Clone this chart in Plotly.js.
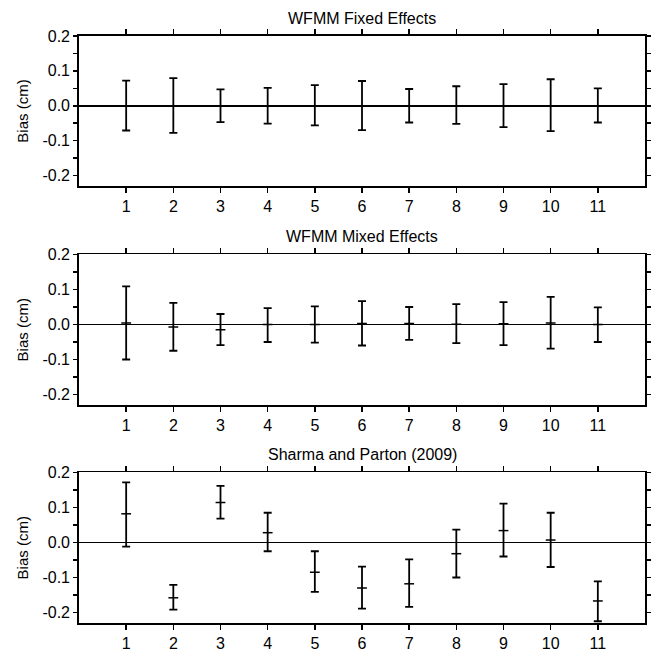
<!DOCTYPE html>
<html>
<head>
<meta charset="utf-8">
<script src="https://cdn.plot.ly/plotly-3.0.1.min.js"></script>
<style>html,body{margin:0;padding:0;background:#fff;}#chart{width:652px;height:653px;}</style>
</head>
<body>
<div id="chart"></div>
<script>
// ---- data ----
var categories = [1, 2, 3, 4, 5, 6, 7, 8, 9, 10, 11];

var fixedMean  = [0, 0, 0, 0, 0, 0, 0, 0, 0, 0, 0];
var fixedUpper = [0.072, 0.079, 0.047, 0.051, 0.059, 0.071, 0.048, 0.056, 0.062, 0.076, 0.050];
var fixedLower = [-0.071, -0.078, -0.047, -0.051, -0.056, -0.070, -0.048, -0.052, -0.061, -0.073, -0.048];

var mixedMean  = [0.004, -0.007, -0.015, 0.000, 0.000, 0.003, 0.003, 0.001, 0.002, 0.004, 0.000];
var mixedUpper = [0.109, 0.062, 0.030, 0.047, 0.052, 0.067, 0.050, 0.058, 0.064, 0.079, 0.049];
var mixedLower = [-0.100, -0.075, -0.059, -0.050, -0.052, -0.060, -0.044, -0.053, -0.059, -0.069, -0.050];

var spMean  = [0.082, -0.158, 0.114, 0.028, -0.085, -0.130, -0.118, -0.032, 0.034, 0.007, -0.167];
var spUpper = [0.172, -0.121, 0.162, 0.085, -0.025, -0.069, -0.048, 0.037, 0.111, 0.085, -0.111];
var spLower = [-0.012, -0.192, 0.068, -0.025, -0.141, -0.189, -0.184, -0.100, -0.040, -0.070, -0.225];

var panelTitles = ['WFMM Fixed Effects', 'WFMM Mixed Effects', 'Sharma and Parton (2009)'];
var yTickVals = [-0.2, -0.15, -0.1, -0.05, 0, 0.05, 0.1, 0.15, 0.2];
var yTickText = ['-0.2', '', '-0.1', '', '0.0', '', '0.1', '', '0.2'];
var xTickText = ['1', '2', '3', '4', '5', '6', '7', '8', '9', '10', '11'];

// ---- build ----
var series = [
  {mean: fixedMean, up: fixedUpper, lo: fixedLower},
  {mean: mixedMean, up: mixedUpper, lo: mixedLower},
  {mean: spMean, up: spUpper, lo: spLower}
];
var axisSuffix = ['', '2', '3'];
var domains = [[0.7445, 1.0], [0.3714, 0.6278], [0.0, 0.2564]];
var zeroW = [2.2, 1.8, 1.8];

var font = 'Liberation Sans, Arial, sans-serif';
var traces = [];
var layout = {
  width: 652, height: 653,
  margin: {l: 79, r: 7, t: 36, b: 30},
  paper_bgcolor: '#fff', plot_bgcolor: '#fff',
  showlegend: false,
  font: {family: font, color: '#000', size: 16},
  annotations: []
};

series.forEach(function (s, i) {
  var sx = axisSuffix[i];
  traces.push({
    type: 'scatter', mode: 'markers',
    x: categories, y: s.mean,
    xaxis: 'x' + sx, yaxis: 'y' + sx,
    marker: {symbol: 'line-ew', size: 7, color: '#000', line: {color: '#000', width: 1.5}},
    error_y: {
      type: 'data', symmetric: false,
      array: s.up.map(function (u, k) { return u - s.mean[k]; }),
      arrayminus: s.lo.map(function (l, k) { return s.mean[k] - l; }),
      color: '#000', thickness: 1.8, width: 4
    },
    hoverinfo: 'skip'
  });
  var xa = {
    domain: [0, 1], range: [0, 12], anchor: 'y' + sx,
    tickmode: 'array', tickvals: categories, ticktext: xTickText,
    ticks: 'outside', ticklen: 5, tickwidth: 1.5, tickcolor: '#000',
    showline: true, linecolor: '#000', linewidth: 1.8, mirror: 'ticks',
    showgrid: false, zeroline: false,
    tickfont: {family: font, size: 16, color: '#000'}
  };
  var ya = {
    domain: domains[i], range: [-0.23, 0.2], anchor: 'x' + sx,
    tickmode: 'array', tickvals: yTickVals, ticktext: yTickText,
    ticks: 'outside', ticklen: 4, tickwidth: 1.5, tickcolor: '#000',
    showline: true, linecolor: '#000', linewidth: 1.8, mirror: 'ticks',
    showgrid: false,
    zeroline: true, zerolinecolor: '#000', zerolinewidth: zeroW[i],
    tickfont: {family: font, size: 16, color: '#000'},
    title: {text: 'Bias (cm)', font: {family: font, size: 15, color: '#000'}, standoff: 10}
  };
  layout['xaxis' + sx] = xa;
  layout['yaxis' + sx] = ya;
  layout.annotations.push({
    text: panelTitles[i], xref: 'paper', yref: 'paper',
    x: 0.5, y: domains[i][1], xanchor: 'center', yanchor: 'bottom',
    yshift: 7, showarrow: false,
    font: {family: font, size: 16, color: '#000'}
  });
});

Plotly.newPlot('chart', traces, layout, {displayModeBar: false, staticPlot: true});
</script>
</body>
</html>
